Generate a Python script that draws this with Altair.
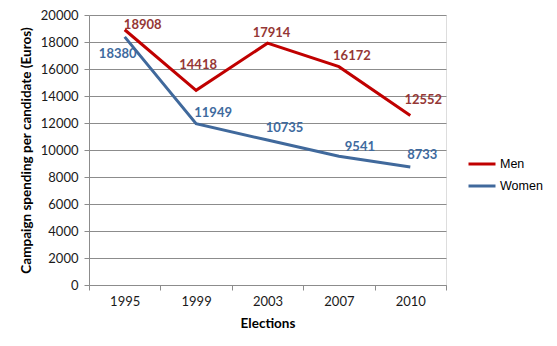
import altair as alt
import pandas as pd

years = ["1995", "1999", "2003", "2007", "2010"]
men = [18908, 14418, 17914, 16172, 12552]
women = [18380, 11949, 10735, 9541, 8733]
series = ["Men", "Women"]

# label offsets (pixels) for each data label
men_label_dx = [18, 2, 4, 13, 13]
men_label_dy = [-5, -25, -10, -11, -16]
women_label_dx = [-7, 17, 17, 21, 12]
women_label_dy = [17, -11, -12, -9, -12]

rows = []
for i, yr in enumerate(years):
    rows.append({"year": yr, "series": "Men", "value": men[i], "idx": i})
    rows.append({"year": yr, "series": "Women", "value": women[i], "idx": i})
df = pd.DataFrame(rows)

FONT = "Lato"
line_colors = ["#C00000", "#40699C"]
label_colors = {"Men": "#953735", "Women": "#3E6A9E"}
offsets = {"Men": (men_label_dx, men_label_dy), "Women": (women_label_dx, women_label_dy)}
GRID = "#8C8C8C"

x_enc = alt.X(
    "year:N", sort=years,
    scale=alt.Scale(type="band", paddingInner=0, paddingOuter=0),
    axis=alt.Axis(title="Elections", tickBand="extent", grid=False, labelAngle=0,
                  tickSize=5, labelPadding=5, titlePadding=8,
                  domainColor=GRID, tickColor=GRID,
                  labelFont=FONT, labelFontSize=13, labelColor="#1a1a1a",
                  titleFont=FONT, titleFontSize=13.5, titleFontWeight="bold", titleColor="#000000"),
)
y_enc = alt.Y(
    "value:Q",
    scale=alt.Scale(domain=[0, 20000], nice=False),
    axis=alt.Axis(title="Campaign spending per candidate (Euros)", format="d",
                  values=list(range(0, 20001, 2000)), grid=True, gridColor=GRID,
                  tickSize=5, labelPadding=6, titlePadding=7,
                  domainColor=GRID, tickColor=GRID,
                  labelFont=FONT, labelFontSize=13, labelColor="#1a1a1a",
                  titleFont=FONT, titleFontSize=13.5, titleFontWeight="bold", titleColor="#000000"),
)

base = alt.Chart(df)

lines = base.mark_line(strokeWidth=3).encode(
    x=x_enc, y=y_enc,
    color=alt.Color("series:N", scale=alt.Scale(domain=series, range=line_colors),
                    legend=alt.Legend(title=None, orient="none", legendX=378, legendY=134,
                                      symbolType="stroke", symbolSize=729, symbolStrokeWidth=3,
                                      labelFont="Liberation Sans", labelFontSize=12.5,
                                      labelColor="#000000", labelOffset=3, rowPadding=-1)),
)

layers = [lines]
for s in series:
    dxs, dys = offsets[s]
    for i in range(len(years)):
        layers.append(
            base.transform_filter(
                (alt.datum.series == s) & (alt.datum.idx == i)
            ).mark_text(dx=dxs[i], dy=dys[i], font=FONT, fontSize=13, fontWeight="bold",
                        color=label_colors[s]).encode(
                x=x_enc, y=y_enc, text=alt.Text("value:Q", format="d")
            )
        )

chart = alt.layer(*layers).properties(
    width=357, height=270,
    autosize=alt.AutoSizeParams(type="none"),
    padding={"left": 89, "top": 15, "right": 111, "bottom": 61},
).configure_view(stroke=None).configure(background="white")

chart.save("out.html", embed_options={"renderer": "svg", "actions": False})
